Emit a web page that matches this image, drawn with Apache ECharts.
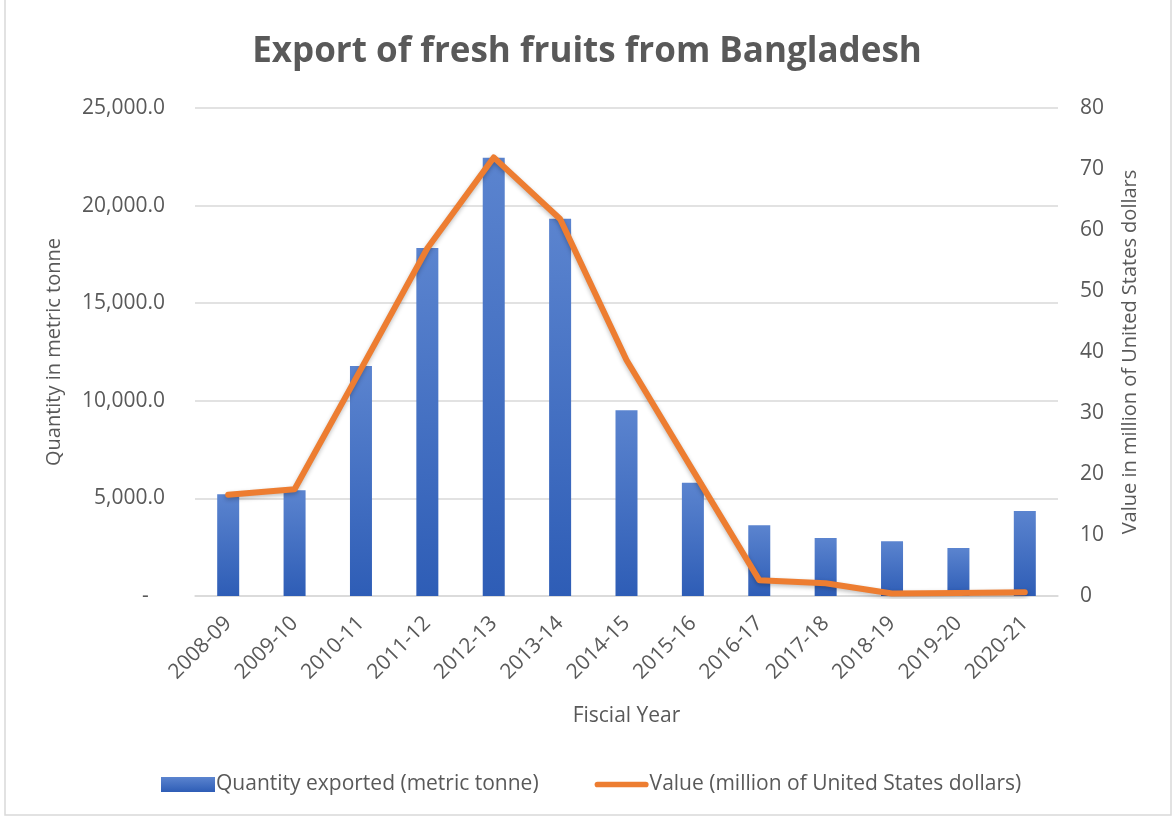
<!DOCTYPE html>
<html>
<head>
<meta charset="utf-8">
<script src="https://cdn.jsdelivr.net/npm/echarts@6/dist/echarts.min.js"></script>
<style>
  html, body { margin: 0; padding: 0; background: #fff; }
  #chart { width: 1174px; height: 820px; }
</style>
</head>
<body>
<div id="chart"></div>
<script>
// fiscal years
const years = ["2008-09", "2009-10", "2010-11", "2011-12", "2012-13", "2013-14", "2014-15",
  "2015-16", "2016-17", "2017-18", "2018-19", "2019-20", "2020-21"];
// quantity exported, metric tonne
const quantity = [5215, 5420, 11780, 17830, 22450, 19320, 9520, 5800, 3630, 2975, 2805, 2460, 4360];
// value, million US dollars
const value = [16.6, 17.5, 37.2, 57.0, 71.9, 61.8, 38.7, 20.6, 2.6, 2.1, 0.4, 0.5, 0.6];

const font = "'Open Sans', sans-serif";
const grey = "#595959";

let chart = echarts.init(document.getElementById("chart"));
let option = {
  backgroundColor: "#fff",
  textStyle: { fontFamily: font },
  title: {
    text: "Export of fresh fruits from Bangladesh",
    left: "center",
    top: 30,
    textStyle: { fontSize: 35, fontWeight: "bold", color: grey, fontFamily: font }
  },
  graphic: [{
    type: "rect",
    shape: { x: 5, y: -2, width: 1166, height: 817 },
    style: { fill: "none", stroke: "#d9d9d9", lineWidth: 1.5 },
    silent: true
  }],
  legend: {
    bottom: 20,
    left: 156,
    itemGap: 56,
    itemWidth: 54,
    itemHeight: 15,
    textStyle: { fontSize: 21, color: grey, padding: [0, 0, 0, -4] },
    data: [
      { name: "Quantity exported (metric tonne)", icon: "rect" },
      { name: "Value (million of United States dollars)",
        icon: "path://M3,0 L54,0 A3,3 0 0 1 54,6 L3,6 A3,3 0 0 1 3,0 Z" }
    ]
  },
  grid: { left: 195, right: 116, top: 108, bottom: 224 },
  xAxis: {
    type: "category",
    data: years,
    name: "Fiscial Year",
    nameLocation: "middle",
    nameGap: 110,
    nameTextStyle: { fontSize: 21, color: grey },
    axisLine: { lineStyle: { color: "#d9d9d9", width: 1.5 } },
    axisTick: { show: false },
    axisLabel: { rotate: 45, fontSize: 21, color: grey, margin: 24 }
  },
  yAxis: [
    {
      type: "value",
      min: 0, max: 25000, interval: 5000,
      name: "Quantity in metric tonne",
      nameLocation: "middle",
      nameGap: 131,
      nameTextStyle: { fontSize: 20, color: grey },
      axisLine: { show: false },
      axisTick: { show: false },
      axisLabel: {
        fontSize: 21, color: grey, margin: 30,
        formatter: v => v === 0 ? "-   " : v.toLocaleString("en-US", { minimumFractionDigits: 1 })
      },
      splitLine: { lineStyle: { color: "#d9d9d9", width: 1.5 } }
    },
    {
      type: "value",
      min: 0, max: 80, interval: 10,
      name: "Value in million of United States dollars",
      nameLocation: "middle",
      nameGap: 62,
      nameTextStyle: { fontSize: 20, color: grey },
      axisLine: { show: false },
      axisTick: { show: false },
      axisLabel: { fontSize: 21, color: grey, margin: 22 },
      splitLine: { show: false }
    }
  ],
  series: [
    {
      name: "Quantity exported (metric tonne)",
      type: "bar",
      barWidth: 22,
      data: quantity,
      itemStyle: {
        color: new echarts.graphic.LinearGradient(0, 0, 0, 1, [
          { offset: 0, color: "#5b84cf" },
          { offset: 1, color: "#2e5db6" }
        ]),
        shadowBlur: 4,
        shadowColor: "rgba(0,0,0,0.3)",
        shadowOffsetY: 2
      }
    },
    {
      name: "Value (million of United States dollars)",
      type: "line",
      yAxisIndex: 1,
      data: value,
      symbol: "none",
      lineStyle: {
        color: "#ED7D31", width: 6, cap: "round", join: "round",
        shadowBlur: 4, shadowColor: "rgba(0,0,0,0.25)", shadowOffsetY: 2
      },
      itemStyle: { color: "#ED7D31" },
      z: 3
    }
  ]
};
chart.setOption(option);
</script>
</body>
</html>
